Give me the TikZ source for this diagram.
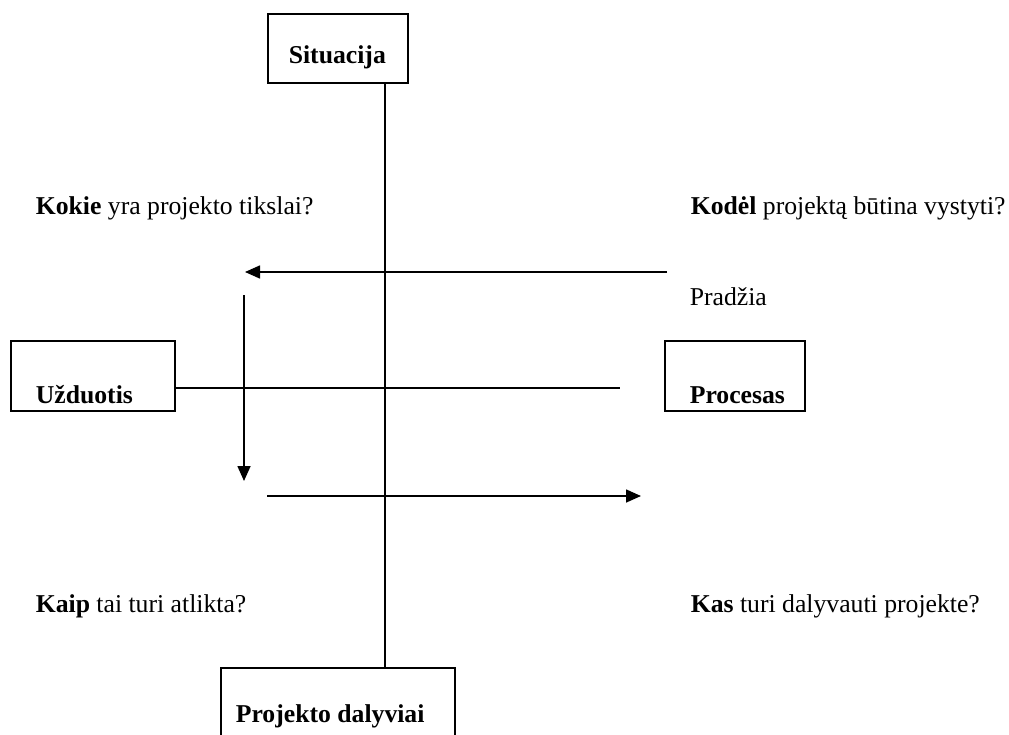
\documentclass[tikz,border=0pt]{standalone}
\usepackage{fontspec}
\setmainfont{Liberation Serif}
\usetikzlibrary{arrows.meta}
\begin{document}
\begin{tikzpicture}[x=1pt,y=-1pt,
  line width=1.6pt,
  box/.style={draw, rectangle, inner sep=0pt},
  txt/.style={anchor=base west, inner sep=0pt, font=\fontsize{25.7}{30}\selectfont},
  arr/.style={-{Triangle[length=15pt,width=13pt]}}]
\useasboundingbox (0,0) rectangle (1009,734);
\clip (0,0) rectangle (1009,734);

% boxes
\node[box, minimum width=140, minimum height=69] (sit) at (338,48.5) {};
\node[box, minimum width=164, minimum height=70] (uz) at (93,376) {};
\node[box, minimum width=140, minimum height=70] (pr) at (735,376) {};
\node[box, minimum width=234, minimum height=100] (pd) at (338,718) {};

% box captions
\node[txt] (sitT) at (288,63) {\textbf{Situacija}};
\node[txt] (uzT) at (35,403) {\textbf{Užduotis}};
\node[txt] (prT) at (689,403) {\textbf{Procesas}};
\node[txt] (pdT) at (235,722) {\textbf{Projekto dalyviai}};

% questions
\node[txt] (q1) at (35,214) {\textbf{Kokie} yra projekto tikslai?};
\node[txt] (q2) at (690,214) {\textbf{Kodėl} projektą būtina vystyti?};
\node[txt] (st) at (689,305) {Pradžia};
\node[txt] (q3) at (35,612) {\textbf{Kaip} tai turi atlikta?};
\node[txt] (q4) at (690,612) {\textbf{Kas} turi dalyvauti projekte?};

% spine and cross line
\coordinate (sx) at (385,0);
\draw (sit.south -| sx) -- (pd.north -| sx);
\coordinate (hend) at (620,388);
\draw (uz.east |- hend) -- (hend);

% cycle arrows
\coordinate (a1s) at (667,272);
\coordinate (a1e) at (245,272);
\draw[arr] (a1s) -- (a1e);
\coordinate (a2s) at (244,295);
\coordinate (a2e) at (244,481);
\draw[arr] (a2s) -- (a2e);
\coordinate (a3s) at (267,496);
\coordinate (a3e) at (641,496);
\draw[arr] (a3s) -- (a3e);
\end{tikzpicture}
\end{document}
